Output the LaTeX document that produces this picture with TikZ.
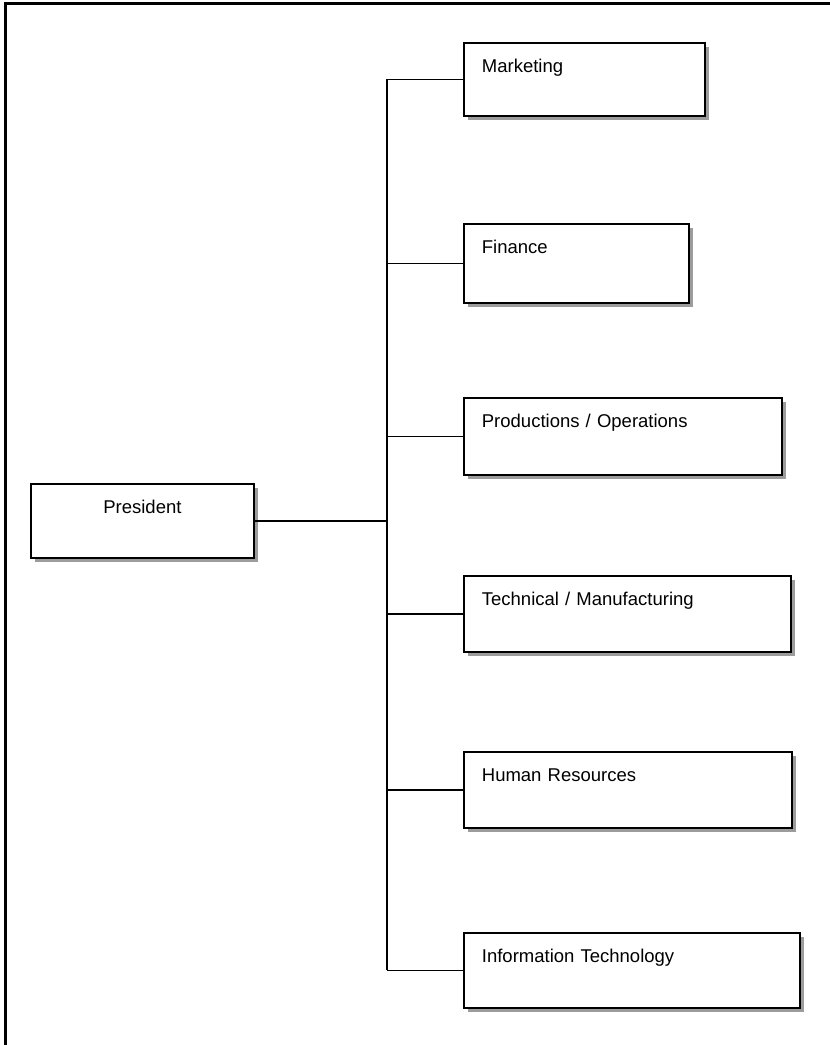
\documentclass[tikz,border=0pt]{standalone}
\usepackage{fontspec}
\setmainfont{Liberation Sans}
\usetikzlibrary{shadows}
\begin{document}
\begin{tikzpicture}[x=1pt,y=-1pt,
  unitbox/.style={draw, line width=1.8pt, fill=white, anchor=north west,
    inner xsep=18pt, inner ysep=0pt, text height=30pt, align=left,
    font=\fontsize{18.5}{22}\selectfont,
    drop shadow={shadow xshift=4pt, shadow yshift=-4pt, fill=shadowgray, opacity=1}},
  conn/.style={line width=1.6pt}]
\definecolor{shadowgray}{HTML}{9C9C9C}
\useasboundingbox (0,0) rectangle (830,1045);
\clip (0,0) rectangle (830,1045);
\draw[line width=3pt] (5,3) rectangle (900,1100);

\node[unitbox, text width=187pt, text depth=44pt, align=center] (pres) at (30,483) {President};
\node[unitbox, text width=205pt, text depth=43pt] (mkt) at (463,42) {Marketing};
\node[unitbox, text width=189pt, text depth=49pt] (fin) at (463,223) {Finance};
\node[unitbox, text width=282pt, text depth=47pt] (prod) at (463,397) {Productions / Operations};
\node[unitbox, text width=291pt, text depth=46pt] (tech) at (463,575) {Technical / Manufacturing};
\node[unitbox, text width=292pt, text depth=46pt] (hr) at (463,751) {Human Resources};
\node[unitbox, text width=300pt, text depth=45pt] (it) at (463,932) {Information Technology};

\coordinate (jn) at (387,521);
\draw[conn] (pres.east) -- (pres.east -| jn);
\draw[conn] (mkt.west -| jn) -- (it.west -| jn);
\foreach \n in {mkt,fin,prod,tech,hr,it}{
  \draw[conn] (\n.west -| jn) -- (\n.west);
}
\end{tikzpicture}
\end{document}
